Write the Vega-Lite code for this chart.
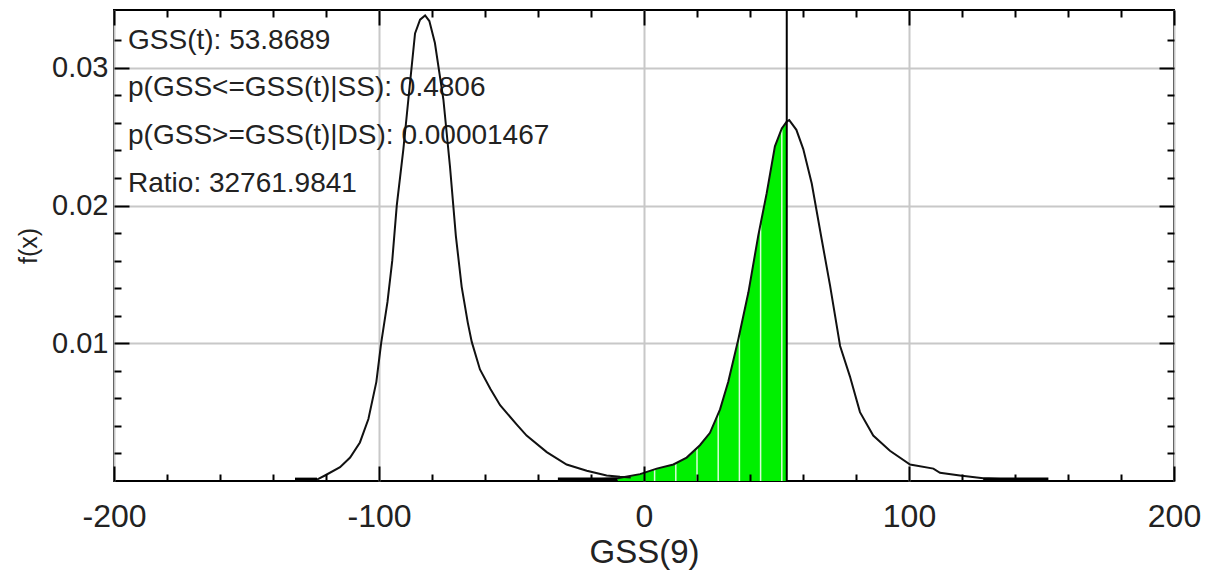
{
  "$schema": "https://vega.github.io/schema/vega-lite/v6.json",
  "width": 1060,
  "height": 471,
  "autosize": {"type": "none"},
  "padding": {"left": 114, "top": 10, "right": 32, "bottom": 92},
  "background": "white",
  "config": {"view": {"stroke": "#000", "strokeWidth": 2}},
  "datasets": {
    "ss": [
      {"x": -131.7, "y": 0}, {"x": -123.4, "y": 0.0001}, {"x": -120.4, "y": 0.0004}, {"x": -114.7, "y": 0.001},
      {"x": -110.9, "y": 0.0017}, {"x": -107.2, "y": 0.0028}, {"x": -104.0, "y": 0.0045}, {"x": -101.0, "y": 0.0072},
      {"x": -99.2, "y": 0.01}, {"x": -96.8, "y": 0.013}, {"x": -95.0, "y": 0.016}, {"x": -93.3, "y": 0.02},
      {"x": -90.8, "y": 0.0241}, {"x": -88.3, "y": 0.0289}, {"x": -86.4, "y": 0.0325}, {"x": -84.5, "y": 0.0335},
      {"x": -82.6, "y": 0.0338}, {"x": -81.0, "y": 0.0334}, {"x": -78.9, "y": 0.0318}, {"x": -75.7, "y": 0.0277},
      {"x": -73.2, "y": 0.0228}, {"x": -71.0, "y": 0.0178}, {"x": -68.8, "y": 0.0141}, {"x": -66.5, "y": 0.0115}, {"x": -65.0, "y": 0.0101},
      {"x": -61.9, "y": 0.0081}, {"x": -58.0, "y": 0.0067}, {"x": -54.3, "y": 0.0055}, {"x": -48.0, "y": 0.0041},
      {"x": -44.3, "y": 0.0033}, {"x": -36.7, "y": 0.0021}, {"x": -29.2, "y": 0.0012}, {"x": -21.6, "y": 0.00075},
      {"x": -14.1, "y": 0.0004}, {"x": -9.1, "y": 0.0003}, {"x": -5.0, "y": 0.00025}
    ],
    "ds": [
      {"x": -32.5, "y": 0}, {"x": -20, "y": 0.0001}, {"x": -10, "y": 0.0002}, {"x": -1.5, "y": 0.0005},
      {"x": 4.8, "y": 0.0009}, {"x": 11.1, "y": 0.0012}, {"x": 16.1, "y": 0.0017}, {"x": 21.1, "y": 0.0026},
      {"x": 24.9, "y": 0.0035}, {"x": 28.7, "y": 0.0052}, {"x": 31.8, "y": 0.0072}, {"x": 35.6, "y": 0.0103},
      {"x": 39.4, "y": 0.0137}, {"x": 43.1, "y": 0.0178}, {"x": 46.3, "y": 0.0209}, {"x": 49.4, "y": 0.0243},
      {"x": 52.0, "y": 0.0256}, {"x": 53.87, "y": 0.0261}, {"x": 54.8, "y": 0.0262}, {"x": 57.5, "y": 0.0255},
      {"x": 60.1, "y": 0.0241}, {"x": 63.3, "y": 0.0216}, {"x": 67.1, "y": 0.0175}, {"x": 70.2, "y": 0.0142},
      {"x": 74.0, "y": 0.0098}, {"x": 77.7, "y": 0.0076}, {"x": 81.5, "y": 0.005}, {"x": 86.5, "y": 0.0033},
      {"x": 92.8, "y": 0.0022}, {"x": 100.4, "y": 0.0012}, {"x": 109.2, "y": 0.0009}, {"x": 111.7, "y": 0.0006},
      {"x": 119.2, "y": 0.0004}, {"x": 128, "y": 0.0002}, {"x": 152.6, "y": 0}
    ],
    "hatch": [
      {"x": 4, "h": 0.00085}, {"x": 12, "h": 0.0013}, {"x": 20, "h": 0.0024}, {"x": 28, "h": 0.0049},
      {"x": 36, "h": 0.0106}, {"x": 44, "h": 0.0186}, {"x": 52, "h": 0.0255}
    ],
    "tails": [
      {"x0": -131.7, "x1": -123.4}, {"x0": -32.5, "x1": -10}, {"x0": 128, "x1": 152.6}
    ]
  },
  "resolve": {"axis": {"x": "independent", "y": "independent"}},
  "layer": [
    {
      "data": {"name": "ds"},
      "transform": [{"filter": "datum.x >= -10 && datum.x <= 53.87"}],
      "mark": {"type": "area", "color": "#00f000", "opacity": 1},
      "encoding": {
        "x": {"field": "x", "type": "quantitative", "scale": {"domain": [-200, 200], "nice": false, "zero": false},
          "axis": {"orient": "bottom", "values": [-200, -100, 0, 100, 200], "labelExpr": "'' + datum.value", "ticks": false, "domain": false,
            "grid": true, "gridColor": "#c8c8c8", "gridWidth": 2, "labelFont": "Liberation Sans", "labelFontSize": 32, "labelColor": "#222",
            "labelPadding": 20, "labelFlush": false, "labelOverlap": false, "title": "GSS(9)", "titleFont": "Liberation Sans",
            "titleFontSize": 33, "titleFontWeight": "normal", "titleColor": "#222", "titlePadding": 4, "zindex": 0}},
        "y": {"field": "y", "type": "quantitative", "scale": {"domain": [0, 0.0342], "nice": false},
          "axis": {"orient": "left", "values": [0.01, 0.02, 0.03], "format": ".2f", "ticks": false, "domain": false,
            "grid": true, "gridColor": "#c8c8c8", "gridWidth": 2, "labelFont": "Liberation Sans", "labelFontSize": 29, "labelColor": "#222",
            "labelPadding": 6, "labelOverlap": false, "title": "f(x)", "titleFont": "Liberation Sans",
            "titleFontSize": 25, "titleFontWeight": "normal", "titleColor": "#222", "titlePadding": 10, "zindex": 0}}
      }
    },
    {
      "data": {"name": "hatch"},
      "mark": {"type": "rule", "color": "#ffffff", "strokeWidth": 1.5, "opacity": 0.85},
      "encoding": {
        "x": {"field": "x", "type": "quantitative", "scale": {"domain": [-200, 200], "nice": false, "zero": false},
          "axis": {"orient": "bottom", "values": [-200, -100, 0, 100, 200], "ticks": true, "tickSize": -15, "tickColor": "#000", "tickWidth": 2,
            "labels": false, "domain": false, "grid": false, "title": null, "zindex": 1}},
        "y": {"field": "h", "type": "quantitative", "scale": {"domain": [0, 0.0342], "nice": false},
          "axis": {"orient": "left", "values": [0.01, 0.02, 0.03], "ticks": true, "tickSize": -15, "tickColor": "#000", "tickWidth": 2,
            "labels": false, "domain": false, "grid": false, "title": null, "zindex": 1}},
        "y2": {"datum": 0}
      }
    },
    {
      "data": {"values": [{"lines": "x"}]},
      "mark": {"type": "text", "align": "left", "baseline": "alphabetic", "font": "Liberation Sans", "fontSize": 28, "color": "#222", "lineHeight": 47.7,
        "text": ["GSS(t): 53.8689", "p(GSS<=GSS(t)|SS): 0.4806", "p(GSS>=GSS(t)|DS): 0.00001467", "Ratio: 32761.9841"]},
      "encoding": {
        "x": {"datum": -194.7, "type": "quantitative", "scale": {"domain": [-200, 200], "nice": false, "zero": false}, "axis": null},
        "y": {"datum": 0.0314, "type": "quantitative", "scale": {"domain": [0, 0.0342], "nice": false}, "axis": null}
      }
    },
    {
      "data": {"name": "ss"},
      "mark": {"type": "line", "color": "#111", "strokeWidth": 2},
      "encoding": {
        "x": {"field": "x", "type": "quantitative", "scale": {"domain": [-200, 200], "nice": false, "zero": false},
          "axis": {"orient": "bottom", "values": [-180, -160, -140, -120, -80, -60, -40, -20, 20, 40, 60, 80, 120, 140, 160, 180],
            "ticks": true, "tickSize": -7, "tickColor": "#000", "tickWidth": 2, "labels": false, "domain": false, "grid": false, "title": null, "zindex": 1}},
        "y": {"field": "y", "type": "quantitative", "scale": {"domain": [0, 0.0342], "nice": false},
          "axis": {"orient": "left", "values": [0.002, 0.004, 0.006, 0.008, 0.012, 0.014, 0.016, 0.018, 0.022, 0.024, 0.026, 0.028, 0.032],
            "ticks": true, "tickSize": -7, "tickColor": "#000", "tickWidth": 2, "labels": false, "domain": false, "grid": false, "title": null, "zindex": 1}}
      }
    },
    {
      "data": {"name": "ds"},
      "mark": {"type": "line", "color": "#111", "strokeWidth": 2},
      "encoding": {
        "x": {"field": "x", "type": "quantitative", "scale": {"domain": [-200, 200], "nice": false, "zero": false},
          "axis": {"orient": "top", "values": [-200, -100, 0, 100, 200], "ticks": true, "tickSize": -15, "tickColor": "#000", "tickWidth": 2,
            "labels": false, "domain": false, "grid": false, "title": null, "zindex": 1}},
        "y": {"field": "y", "type": "quantitative", "scale": {"domain": [0, 0.0342], "nice": false},
          "axis": {"orient": "right", "values": [0.01, 0.02, 0.03], "ticks": true, "tickSize": -15, "tickColor": "#000", "tickWidth": 2,
            "labels": false, "domain": false, "grid": false, "title": null, "zindex": 1}}
      }
    },
    {
      "data": {"name": "tails"},
      "mark": {"type": "rule", "color": "#000", "strokeWidth": 4},
      "encoding": {
        "x": {"field": "x0", "type": "quantitative", "scale": {"domain": [-200, 200], "nice": false, "zero": false},
          "axis": {"orient": "top", "values": [-180, -160, -140, -120, -80, -60, -40, -20, 20, 40, 60, 80, 120, 140, 160, 180],
            "ticks": true, "tickSize": -7, "tickColor": "#000", "tickWidth": 2, "labels": false, "domain": false, "grid": false, "title": null, "zindex": 1}},
        "x2": {"field": "x1"},
        "y": {"datum": 0.0001, "type": "quantitative", "scale": {"domain": [0, 0.0342], "nice": false},
          "axis": {"orient": "right", "values": [0.002, 0.004, 0.006, 0.008, 0.012, 0.014, 0.016, 0.018, 0.022, 0.024, 0.026, 0.028, 0.032],
            "ticks": true, "tickSize": -7, "tickColor": "#000", "tickWidth": 2, "labels": false, "domain": false, "grid": false, "title": null, "zindex": 1}}
      }
    },
    {
      "data": {"values": [{"t": 53.87}]},
      "mark": {"type": "rule", "color": "#000", "strokeWidth": 2},
      "encoding": {
        "x": {"field": "t", "type": "quantitative", "scale": {"domain": [-200, 200], "nice": false, "zero": false}, "axis": null}
      }
    }
  ]
}
